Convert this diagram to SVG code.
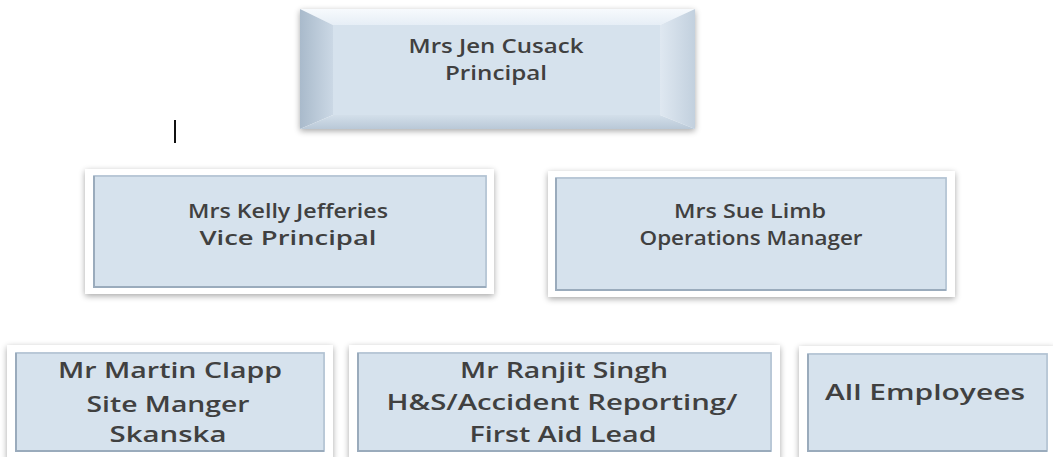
<svg xmlns="http://www.w3.org/2000/svg" width="1053" height="457" viewBox="0 0 1053 457">
<style>
.t{font-family:"Open Sans","Liberation Sans",sans-serif;font-weight:600;fill:#404040;text-anchor:middle;}
.m{font-size:19px;}
.b{font-size:22px;}
.face{fill:#d6e2ed;}
.frame{fill:#ffffff;filter:url(#sh);}
.edge{fill:none;stroke:#b0c0cf;stroke-width:1.5;}
.dk{fill:none;stroke:#9aabbc;stroke-width:2;}
</style>
<defs>
<filter id="sh" x="-10%" y="-10%" width="120%" height="125%">
<feGaussianBlur in="SourceAlpha" stdDeviation="3"/>
<feOffset dx="0" dy="2" result="b"/>
<feComponentTransfer><feFuncA type="linear" slope="0.35"/></feComponentTransfer>
<feMerge><feMergeNode/><feMergeNode in="SourceGraphic"/></feMerge>
</filter>
<linearGradient id="lg" x1="0" y1="0" x2="1" y2="0"><stop offset="0" stop-color="#a9bacb"/><stop offset="1" stop-color="#cbd8e5"/></linearGradient>
<linearGradient id="rg" x1="0" y1="0" x2="1" y2="0"><stop offset="0" stop-color="#dfe8f1"/><stop offset="1" stop-color="#c2d0de"/></linearGradient>
<linearGradient id="tg" x1="0" y1="0" x2="0" y2="1"><stop offset="0" stop-color="#f7fafd"/><stop offset="1" stop-color="#e6eef6"/></linearGradient>
<linearGradient id="bg" x1="0" y1="0" x2="0" y2="1"><stop offset="0" stop-color="#d3dfea"/><stop offset="1" stop-color="#b9c8d7"/></linearGradient>
</defs>

<g id="connectors"></g>

<g id="principal">
<rect x="300" y="9" width="395" height="120" fill="#ffffff" filter="url(#sh)"/>
<polygon points="300,9 695,9 660,25 333,25" fill="url(#tg)"/>
<polygon points="300,9 333,25 333,115 300,129" fill="url(#lg)"/>
<polygon points="695,9 695,129 660,115 660,25" fill="url(#rg)"/>
<polygon points="300,129 333,115 660,115 695,129" fill="url(#bg)"/>
<rect x="333" y="25" width="327" height="90" class="face"/>
<text class="t m" x="496" y="53" textLength="175" lengthAdjust="spacingAndGlyphs">Mrs Jen Cusack</text>
<text class="t m" x="496" y="80" textLength="102" lengthAdjust="spacingAndGlyphs">Principal</text>
</g>

<line x1="175" y1="120" x2="175" y2="143" stroke="#111" stroke-width="2"/>

<g id="vice-principal">
<rect x="85" y="169" width="409" height="125" class="frame"/>
<rect x="93" y="175" width="394" height="113" class="face"/>
<rect x="94" y="176" width="392" height="111" class="edge"/>
<polyline points="94,176 94,287 486,287" class="dk"/>
<text class="t m" x="288" y="218" textLength="200" lengthAdjust="spacingAndGlyphs">Mrs Kelly Jefferies</text>
<text class="t m" x="288" y="245" textLength="177" lengthAdjust="spacingAndGlyphs">Vice Principal</text>
</g>

<g id="operations-manager">
<rect x="548" y="171" width="407" height="126" class="frame"/>
<rect x="555" y="177" width="392" height="114" class="face"/>
<rect x="556" y="178" width="390" height="112" class="edge"/>
<polyline points="556,178 556,290 946,290" class="dk"/>
<text class="t m" x="750" y="218" textLength="152" lengthAdjust="spacingAndGlyphs">Mrs Sue Limb</text>
<text class="t m" x="751" y="245" textLength="223" lengthAdjust="spacingAndGlyphs">Operations Manager</text>
</g>

<g id="site-manager">
<rect x="7" y="345" width="326" height="115" class="frame"/>
<rect x="15" y="352" width="310" height="100" class="face"/>
<rect x="16" y="353" width="308" height="98" class="edge"/>
<polyline points="16,353 16,451 324,451" class="dk"/>
<text class="t b" x="170" y="378" textLength="224" lengthAdjust="spacingAndGlyphs">Mr Martin Clapp</text>
<text class="t b" x="168" y="412" textLength="163" lengthAdjust="spacingAndGlyphs">Site Manger</text>
<text class="t b" x="168" y="442" textLength="117" lengthAdjust="spacingAndGlyphs">Skanska</text>
</g>

<g id="hs-lead">
<rect x="349" y="345" width="431" height="115" class="frame"/>
<rect x="357" y="352" width="415" height="100" class="face"/>
<rect x="358" y="353" width="413" height="98" class="edge"/>
<polyline points="358,353 358,451 771,451" class="dk"/>
<text class="t b" x="564" y="378" textLength="208" lengthAdjust="spacingAndGlyphs">Mr Ranjit Singh</text>
<text class="t b" x="562" y="410" textLength="351" lengthAdjust="spacingAndGlyphs">H&amp;S/Accident Reporting/</text>
<text class="t b" x="563" y="442" textLength="187" lengthAdjust="spacingAndGlyphs">First Aid Lead</text>
</g>

<g id="all-employees">
<rect x="799" y="346" width="256" height="114" class="frame"/>
<rect x="807" y="353" width="241" height="99" class="face"/>
<rect x="808" y="354" width="239" height="97" class="edge"/>
<polyline points="808,354 808,451 1047,451" class="dk"/>
<text class="t b" x="925" y="400" textLength="200" lengthAdjust="spacingAndGlyphs">All Employees</text>
</g>
</svg>
